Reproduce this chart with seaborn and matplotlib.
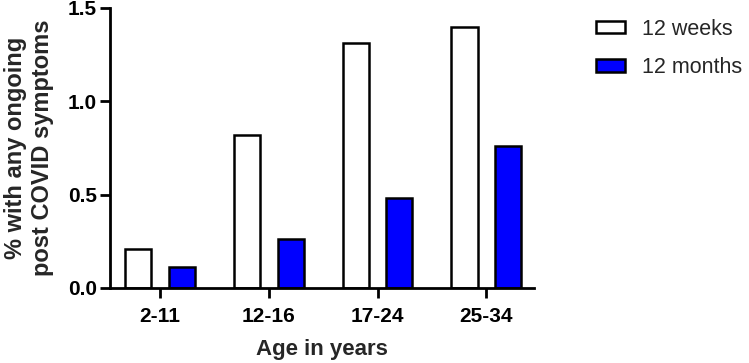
import matplotlib
matplotlib.use("Agg")
import matplotlib.pyplot as plt
import seaborn as sns
import pandas as pd

ages = ["2-11", "12-16", "17-24", "25-34"]
weeks12 = [0.21, 0.82, 1.31, 1.40]
months12 = [0.11, 0.26, 0.48, 0.76]
series = ["12 weeks", "12 months"]
colors = {"12 weeks": "#ffffff", "12 months": "#0000ff"}

df = pd.DataFrame({
    "age": ages * 2,
    "value": weeks12 + months12,
    "series": [series[0]] * len(ages) + [series[1]] * len(ages),
})

sns.set_style("ticks")
plt.rcParams["font.family"] = ["Liberation Sans", "DejaVu Sans"]

fig = plt.figure(figsize=(7.49, 3.63), dpi=100)
ax = fig.add_axes([0.147, 0.207, 0.566, 0.771])

sns.barplot(data=df, x="age", y="value", hue="series", order=ages,
            hue_order=series, palette=colors, width=0.8, gap=0.4,
            edgecolor="black", linewidth=1.8, saturation=1, ax=ax)

ax.set_xlim(-0.46, 3.44)
ax.set_ylim(0, 1.5)
ax.set_yticks([0, 0.5, 1.0, 1.5])
ax.set_yticklabels(["0.0", "0.5", "1.0", "1.5"])
for s in ["top", "right"]:
    ax.spines[s].set_visible(False)
for s in ["left", "bottom"]:
    ax.spines[s].set_linewidth(2.0)
    ax.spines[s].set_color("black")
ax.tick_params(axis="both", width=2.0, length=7, colors="black",
               labelsize=15, direction="out")
ax.tick_params(axis="x", pad=7)
ax.tick_params(axis="y", pad=2.5)
for lab in ax.get_xticklabels() + ax.get_yticklabels():
    lab.set_fontweight("bold")
ax.set_xlabel("Age in years", fontsize=16, fontweight="bold", labelpad=9)
ax.set_ylabel("% with any ongoing\npost COVID symptoms", fontsize=17,
              fontweight="bold", labelpad=10)

h, l = ax.get_legend_handles_labels()
ax.legend(h, l, loc="upper left", bbox_to_anchor=(1.1, 1.03), frameon=False,
          fontsize=15.5, handlelength=1.35, handleheight=0.5, handletextpad=0.8,
          labelspacing=0.8)

fig.savefig("out.png", dpi=100)
